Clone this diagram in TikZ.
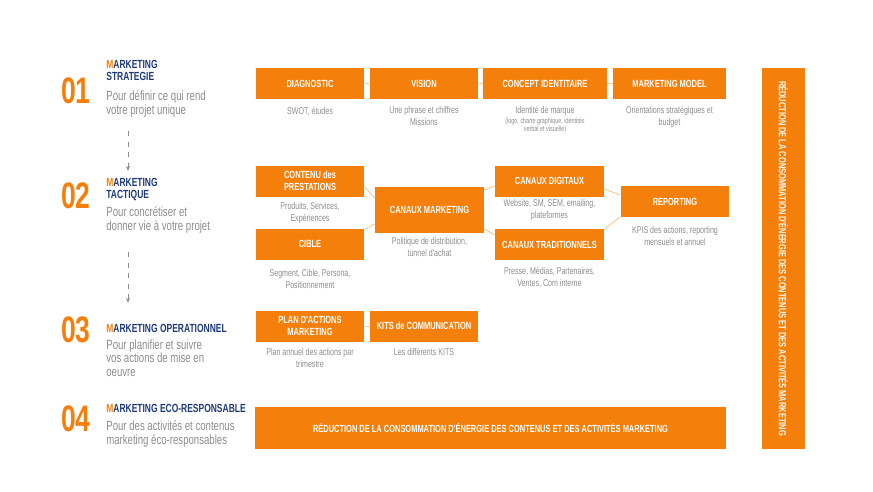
\documentclass[tikz,border=0pt]{standalone}
\usepackage{fontspec}
\setmainfont{Liberation Sans}
\newfontfamily\cond[FakeStretch=0.72]{Liberation Sans}
\usetikzlibrary{arrows.meta}
\definecolor{orng}{HTML}{F57F0B}
\definecolor{navy}{HTML}{1E3A78}
\definecolor{txtgrey}{HTML}{8C8C8C}
\tikzset{
	box/.style={fill=orng, text=white, minimum width=2.18cm, minimum height=0.62cm, inner sep=0pt, align=center, font=\cond\bfseries\fontsize{5.9}{6.8}\selectfont},
	sub/.style={text=txtgrey, align=center, inner sep=0pt, font=\cond\fontsize{5.6}{6.6}\selectfont},
	num/.style={text=orng, font=\cond\bfseries\fontsize{21}{21}\selectfont, inner sep=0pt},
	ttl/.style={text=navy, anchor=north west, inner sep=0pt, align=left, font=\cond\bfseries\fontsize{6.7}{6.9}\selectfont},
	desc/.style={text=txtgrey, anchor=north west, inner sep=0pt, align=left, font=\cond\fontsize{7.6}{7.9}\selectfont},
	link/.style={orng!45, line width=0.5pt}
}
\newcommand{\M}{\textcolor{orng}{M}}
\begin{document}
\begin{tikzpicture}[x=0.02cm, y=-0.02cm]
	\useasboundingbox (0,0) rectangle (873,491);
	
	% left column
	\node[num] (n1) at (76,91) {01};
	\node[ttl] (t1) at (106,60) {\M ARKETING\\STRATEGIE};
	\node[desc] (d1) at (106,90) {Pour définir ce qui rend\\votre projet unique};
	\node[num] (n2) at (76,196) {02};
	\node[ttl] (t2) at (106,178) {\M ARKETING\\TACTIQUE};
	\node[desc] (d2) at (106,206) {Pour concrétiser et\\donner vie à votre projet};
	\node[num] (n3) at (76,330) {03};
	\node[ttl] (t3) at (106,324) {\M ARKETING OPERATIONNEL};
	\node[desc] (d3) at (106,339) {Pour planifier et suivre\\vos actions de mise en\\oeuvre};
	\node[num] (n4) at (76,419) {04};
	\node[ttl] (t4) at (106,404) {\M ARKETING ECO-RESPONSABLE};
	\node[desc] (d4) at (106,420) {Pour des activités et contenus\\marketing éco-responsables};
	\coordinate (a1) at (128,131);
	\coordinate (b1) at (128,171);
	\coordinate (a2) at (128,252);
	\coordinate (b2) at (128,303);
	\draw[txtgrey, dashed, -{Stealth[open, length=3pt]}] (a1) -- (b1);
	\draw[txtgrey, dashed, -{Stealth[open, length=3pt]}] (a2) -- (b2);
	
	% row 1
	\node[box] (diag) at (310,83.5) {DIAGNOSTIC};
	\node[box] (vision) at (424,83.5) {VISION};
	\node[box, minimum width=2.48cm] (concept) at (545,83.5) {CONCEPT IDENTITAIRE};
	\node[box, minimum width=2.26cm] (model) at (669.5,83.5) {MARKETING MODEL};
	\draw[link] (diag) -- (vision);
	\draw[link] (vision) -- (concept);
	\draw[link] (concept) -- (model);
	\node[sub] (s1) at (310,112) {SWOT, études};
	\node[sub, anchor=north] (s2) at (424,106) {Une phrase et chiffres\\Missions};
	\node[sub, anchor=north] (s3) at (545,106) {Identité de marque\\[-1pt]{\fontsize{4.3}{5}\selectfont (logo, charte graphique, identités}\\[-2pt]{\fontsize{4.3}{5}\selectfont verbal et visuelle)}};
	\node[sub, anchor=north] (s4) at (669.5,106) {Orientations stratégiques et\\budget};
	
	% row 2
	\node[box] (contenu) at (310,181) {CONTENU des\\PRESTATIONS};
	\node[box] (cible) at (310,244) {CIBLE};
	\node[box, minimum height=0.92cm] (canaux) at (429.5,210) {CANAUX MARKETING};
	\node[box] (digit) at (549.5,181) {CANAUX DIGITAUX};
	\node[box] (trad) at (549.5,244.5) {CANAUX TRADITIONNELS};
	\node[box] (report) at (675,201.5) {REPORTING};
	\draw[link] (contenu.east) ++(0,6) -- (canaux.west |- 0,198);
	\draw[link] (cible.east) ++(0,-15) -- (canaux.west |- 0,224);
	\draw[link] (canaux.east |- 0,190) -- (digit.west |- 0,186);
	\draw[link] (canaux.east |- 0,229) -- (trad.west |- 0,235);
	\draw[link] (digit.east |- 0,189) -- (report.west |- 0,195);
	\draw[link] (trad.east |- 0,229) -- (report.west |- 0,217);
	\node[sub, anchor=north] (s5) at (310,202) {Produits, Services,\\Expériences};
	\node[sub, anchor=north] (s6) at (310,269) {Segment, Cible, Persona,\\Positionnement};
	\node[sub, anchor=north] (s7) at (429.5,237) {Politique de distribution,\\tunnel d'achat};
	\node[sub, anchor=north] (s8) at (549.5,199) {Website, SM, SEM, emailing,\\plateformes};
	\node[sub, anchor=north] (s9) at (549.5,267) {Presse, Médias, Partenaires,\\Ventes, Com interne};
	\node[sub, anchor=north] (s10) at (675,226) {KPIS des actions, reporting\\mensuels et annuel};
	
	% row 3
	\node[box] (plan) at (310,326) {PLAN D'ACTIONS\\MARKETING};
	\node[box] (kits) at (424,326) {KITS de COMMUNICATION};
	\draw[link] (plan) -- (kits);
	\node[sub, anchor=north] (s11) at (310,348) {Plan annuel des actions par\\trimestre};
	\node[sub, anchor=north] (s12) at (424,348) {Les différents KITS};
	
	% row 4 and side bar
	\node[box, minimum width=9.42cm, minimum height=0.84cm] (reduc) at (490.5,428) {RÉDUCTION DE LA CONSOMMATION D'ÉNERGIE DES CONTENUS ET DES ACTIVITÉS MARKETING};
	\node[box, minimum width=7.62cm, minimum height=0.86cm, rotate=-90] (side) at (783.5,258.5) {RÉDUCTION DE LA CONSOMMATION D'ÉNERGIE DES CONTENUS ET DES ACTIVITÉS MARKETING};
\end{tikzpicture}
\end{document}
